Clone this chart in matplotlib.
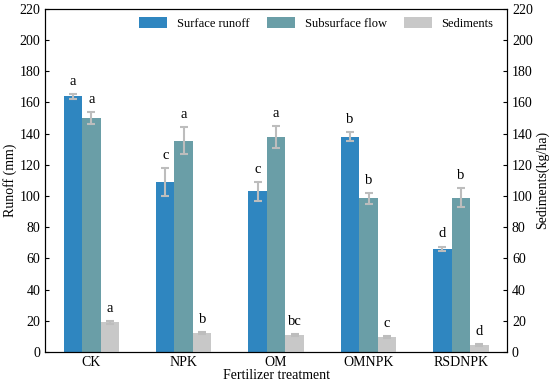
# Escorrentía y sedimentos por tratamiento de fertilización

import matplotlib.pyplot as plt
import numpy as np

plt.rcParams['font.family'] = ['Liberation Serif', 'DejaVu Serif']
plt.rcParams['font.size'] = 10

tratamientos = ['CK', 'NPK', 'OM', 'OMNPK', 'RSDNPK']

superficial = [164, 109, 103, 138, 66]
superficial_err = [1.5, 9, 6, 3, 1.5]
superficial_letras = ['a', 'c', 'c', 'b', 'd']

subsuperficial = [150, 135.5, 138, 98.5, 99]
subsuperficial_err = [4, 8.5, 7, 3.5, 6]
subsuperficial_letras = ['a', 'a', 'a', 'b', 'b']

sedimentos = [19, 12, 11, 9.5, 4.5]
sedimentos_err = [1, 0.7, 0.5, 0.5, 0.5]
sedimentos_letras = ['a', 'b', 'bc', 'c', 'd']

fig = plt.figure(figsize=(5.5, 3.83), dpi=100)
ax = fig.add_axes([0.082, 0.081, 0.84, 0.896])
ax2 = ax.twinx()

x = np.arange(len(tratamientos))
w = 0.2
err_kw = dict(ecolor='#bdbdbd', elinewidth=1.5, capsize=3, capthick=1.5)

b1 = ax.bar(x - w, superficial, w, yerr=superficial_err, color='#2f86c0',
            label='Surface runoff', error_kw=err_kw)
b2 = ax.bar(x, subsuperficial, w, yerr=subsuperficial_err, color='#6a9ea7',
            label='Subsurface flow', error_kw=err_kw)
b3 = ax2.bar(x + w, sedimentos, w, yerr=sedimentos_err, color='#c8c8c8',
             label='Sediments', error_kw=err_kw)

# letras de significancia
for xs, vals, errs, letras, eje in [(x - w, superficial, superficial_err, superficial_letras, ax),
                                     (x, subsuperficial, subsuperficial_err, subsuperficial_letras, ax),
                                     (x + w, sedimentos, sedimentos_err, sedimentos_letras, ax2)]:
    for xi, v, e, l in zip(xs, vals, errs, letras):
        eje.text(xi, v + e + 4, l, ha='center', va='bottom', fontsize=10.5)

for eje in (ax, ax2):
    eje.set_ylim(0, 220)
    eje.set_yticks(np.arange(0, 221, 20))
    eje.tick_params(axis='y', direction='in', length=3)

ax.set_xlim(-0.5, 4.5)
ax.set_xticks(x)
ax.set_xticklabels(tratamientos)
ax.tick_params(axis='x', length=0, pad=3)

ax.set_ylabel('Runoff (mm)', labelpad=2)
ax2.set_ylabel('Sediments(kg/ha)', labelpad=2)
ax.set_xlabel('Fertilizer treatment', labelpad=0)

ax.legend([b1, b2, b3], ['Surface runoff', 'Subsurface flow', 'Sediments'],
          ncol=3, frameon=False, loc='upper right', bbox_to_anchor=(0.995, 1.01),
          fontsize=9, handlelength=2.2, handleheight=1.0, columnspacing=1.4,
          handletextpad=0.8)

plt.savefig('out.png', dpi=100)
